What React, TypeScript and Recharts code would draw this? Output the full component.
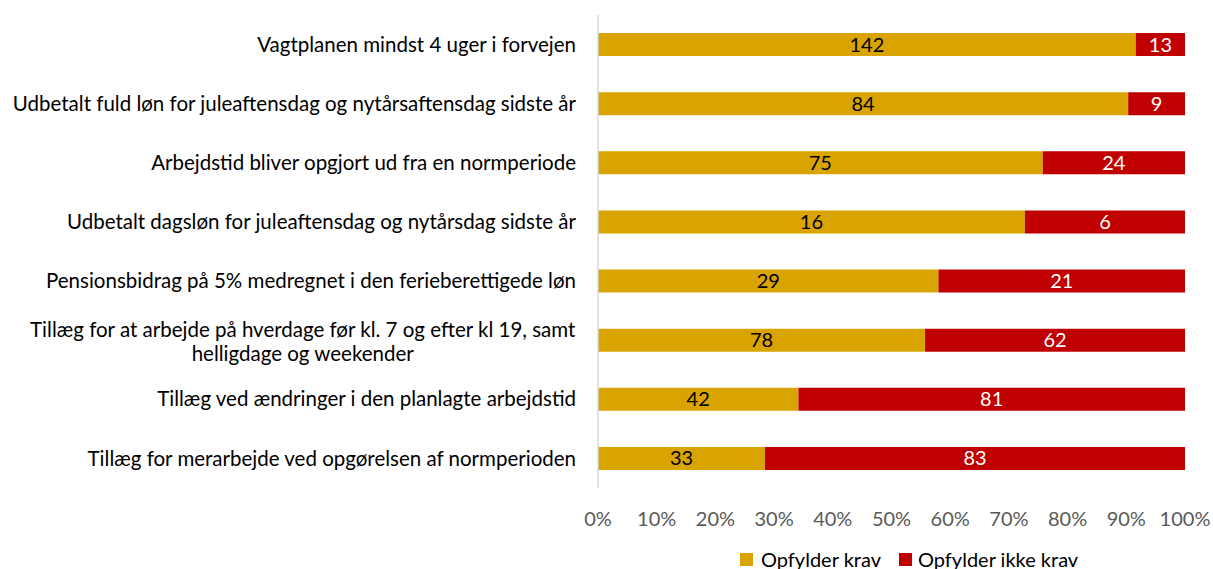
import React from "react";
import { BarChart, Bar, XAxis, YAxis, LabelList, Legend } from "recharts";

const categories = [
  "Vagtplanen mindst 4 uger i forvejen",
  "Udbetalt fuld løn for juleaftensdag og nytårsaftensdag sidste år",
  "Arbejdstid bliver opgjort ud fra en normperiode",
  "Udbetalt dagsløn for juleaftensdag og nytårsdag sidste år",
  "Pensionsbidrag på 5% medregnet i den ferieberettigede løn",
  "Tillæg for at arbejde på hverdage før kl. 7 og efter kl 19, samt|helligdage og weekender",
  "Tillæg ved ændringer i den planlagte arbejdstid",
  "Tillæg for merarbejde ved opgørelsen af normperioden",
];
const opfylder = [142, 84, 75, 16, 29, 78, 42, 33];
const opfylderIkke = [13, 9, 24, 6, 21, 62, 81, 83];
const xTicks = [0, 0.1, 0.2, 0.3, 0.4, 0.5, 0.6, 0.7, 0.8, 0.9, 1];
const seriesNames = ["Opfylder krav", "Opfylder ikke krav"];

const data = categories.map((c, i) => ({ name: c, a: opfylder[i], b: opfylderIkke[i] }));

const FONT = "Lato, 'Open Sans', sans-serif";
const YELLOW = "#D9A300";
const RED = "#C00000";
const YFS = 20.5;

let ctx: CanvasRenderingContext2D | null = null;
function measure(t: string, size: number) {
  if (!ctx) ctx = document.createElement("canvas").getContext("2d");
  if (!ctx) return t.length * size * 0.45;
  ctx.font = `${size}px Lato`;
  return ctx.measureText(t).width;
}

const YTick = (props: any) => {
  const { x, y, payload } = props;
  const lines = String(payload.value).split("|");
  const right = x - 20;
  if (lines.length === 1) {
    return (
      <text x={right} y={y} dy="0.35em" textAnchor="end" fontSize={YFS} fill="#000" fontFamily={FONT}>
        {lines[0]}
      </text>
    );
  }
  const w = measure(lines[0], YFS);
  const cx = right - w / 2;
  return (
    <g>
      <text x={cx} y={y - 10} dy="0.35em" textAnchor="middle" fontSize={YFS} fill="#000" fontFamily={FONT}>
        {lines[0]}
      </text>
      <text x={cx} y={y + 14} dy="0.35em" textAnchor="middle" fontSize={YFS} fill="#000" fontFamily={FONT}>
        {lines[1]}
      </text>
    </g>
  );
};

const LegendContent = () => (
  <div style={{ display: "flex", paddingLeft: 740, paddingTop: 9, fontFamily: FONT, fontSize: 20, color: "#000", lineHeight: "24px" }}>
    <div style={{ display: "flex", alignItems: "center", marginRight: 18 }}>
      <span style={{ width: 13, height: 13, background: YELLOW, display: "inline-block", marginRight: 8 }} />
      {seriesNames[0]}
    </div>
    <div style={{ display: "flex", alignItems: "center" }}>
      <span style={{ width: 13, height: 13, background: RED, display: "inline-block", marginRight: 6 }} />
      {seriesNames[1]}
    </div>
  </div>
);

export default function App() {
  return (
    <div style={{ position: "absolute", left: 0, top: 0, width: 1213, height: 569, background: "#fff", overflow: "hidden" }}>
      <BarChart
        width={1213}
        height={569}
        data={data}
        layout="vertical"
        stackOffset="expand"
        margin={{ top: 15, right: 28, left: 0, bottom: 0 }}
        barSize={23}
      >
        <XAxis
          type="number"
          domain={[0, 1]}
          ticks={xTicks}
          tickFormatter={(v: number) => `${Math.round(v * 100)}%`}
          axisLine={false}
          tickLine={false}
          tickSize={0}
          tickMargin={24}
          height={50}
          tick={{ fontSize: 20, fill: "#595959", fontFamily: FONT }}
          interval={0}
        />
        <YAxis
          type="category"
          dataKey="name"
          width={598}
          axisLine={{ stroke: "#D9D9D9", strokeWidth: 1.5 }}
          tickLine={false}
          tickSize={0}
          tick={<YTick />}
          interval={0}
        />
        <Legend verticalAlign="bottom" height={31} content={<LegendContent />} />
        <Bar dataKey="a" stackId="s" fill={YELLOW} isAnimationActive={false} name={seriesNames[0]}>
          <LabelList dataKey="a" position="center" fill="#000" fontSize={20} fontFamily={FONT} />
        </Bar>
        <Bar dataKey="b" stackId="s" fill={RED} isAnimationActive={false} name={seriesNames[1]}>
          <LabelList dataKey="b" position="center" fill="#fff" fontSize={20} fontFamily={FONT} />
        </Bar>
      </BarChart>
    </div>
  );
}
